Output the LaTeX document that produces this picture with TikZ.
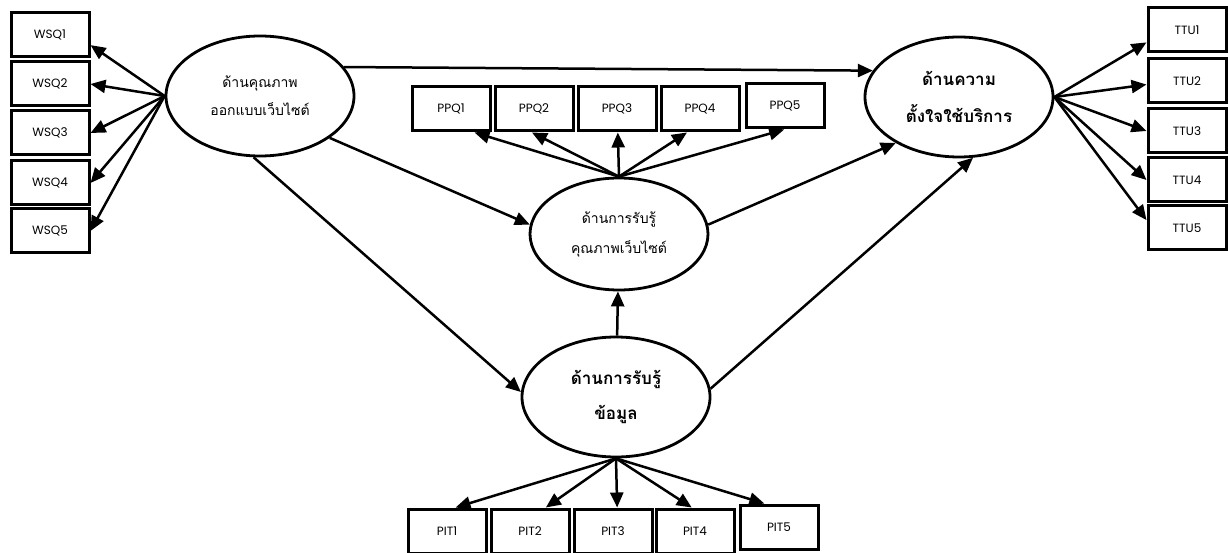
\documentclass[tikz,border=0pt]{standalone}
\usepackage{fontspec}
\setmainfont{Poppins}
\newfontfamily\thai[Script=Thai]{Loma}
\usetikzlibrary{arrows.meta,shapes.geometric}
\begin{document}
\begin{tikzpicture}[x=1pt,y=-1pt,
  ind/.style={draw,line width=3pt,minimum width=78pt,minimum height=44pt,inner sep=0pt,font=\fontsize{12}{14}\selectfont},
  lat/.style={draw,ellipse,line width=2.8pt,minimum width=188pt,minimum height=120pt,inner sep=0pt,align=center},
  link/.style={line width=2.5pt,-{Triangle[length=15pt,width=13pt]}}]
\useasboundingbox (0,0) rectangle (1228,553);
\node[lat,font=\thai\fontsize{14}{28}\selectfont] (wsq) at (260,96) {ด้านคุณภาพ\\ออกแบบเว็บไซต์};
\node[lat,minimum width=178pt,minimum height=112pt,font=\thai\fontsize{14}{30}\selectfont] (ppv) at (619,234) {ด้านการรับรู้\\คุณภาพเว็บไซต์};
\node[lat,font=\thai\bfseries\fontsize{17}{35}\selectfont] (pit) at (616,397) {ด้านการรับรู้\\ข้อมูล};
\node[lat,font=\thai\bfseries\fontsize{17}{37}\selectfont] (ttu) at (959,97) {ด้านความ\\ตั้งใจใช้บริการ};
\foreach \i/\y/\a in {1/35/-14,2/84/0,3/133/0,4/183/0,5/231/0} {
  \node[ind] (w\i) at (50,\y) {WSQ\i};
  \draw[link] (wsq.west) -- (w\i.\a);
}
\foreach \i/\x/\y/\a in {1/451/109/-45,2/534/109/-95,3/617/109/-88,4/700/109/-119,5/785/106/-92} {
  \node[ind] (q\i) at (\x,\y) {PPQ\i};
  \draw[link] (ppv.north) -- (q\i.\a);
}
\foreach \i/\x/\y/\a in {1/447/531/70,2/530/531/56,3/613/531/80,4/695/531/98,5/779/527/122} {
  \node[ind] (i\i) at (\x,\y) {PIT\i};
  \draw[link] (pit.south) -- (i\i.\a);
}
\foreach \i/\y/\a in {1/30/197,2/81/185,3/131/180,4/180/180,5/228/169} {
  \node[ind] (t\i) at (1187,\y) {TTU\i};
  \draw[link] (ttu.east) -- (t\i.\a);
}
\draw[link] (wsq.19) -- (ttu.163);
\draw[link] (wsq.-31) -- (ppv.174);
\draw[link] (wsq.-96) -- (pit.177);
\draw[link] (ppv.6) -- (ttu.216);
\draw[link] (pit.5) -- (ttu.283);
\draw[link] (pit) -- (ppv);
\end{tikzpicture}
\end{document}
